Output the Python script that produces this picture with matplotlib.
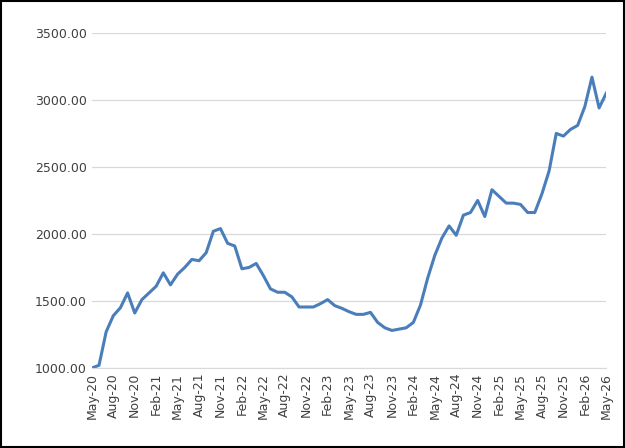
import matplotlib.pyplot as plt
import pandas as pd

months = pd.date_range("2020-05-01", "2026-05-01", freq="MS")
values = [1000, 1020, 1270, 1390, 1450, 1560, 1410, 1510, 1560, 1610, 1710, 1620,
          1700, 1750, 1810, 1800, 1860, 2020, 2040, 1930, 1910, 1740, 1750, 1780,
          1690, 1590, 1565, 1565, 1530, 1455, 1455, 1455, 1480, 1510, 1465, 1445,
          1420, 1400, 1400, 1415, 1340, 1300, 1280, 1290, 1300, 1340, 1470, 1670,
          1840, 1970, 2060, 1990, 2140, 2160, 2250, 2130, 2330, 2280, 2230, 2230,
          2220, 2160, 2160, 2300, 2470, 2750, 2730, 2780, 2810, 2950, 3170, 2940,
          3050]
labels = [m.strftime("%b-%y") for m in months]
yticks = [1000, 1500, 2000, 2500, 3000, 3500]

fig = plt.figure(figsize=(6.25, 4.48), dpi=100)
ax = fig.add_axes([0.147, 0.1786, 0.823, 0.748])
x = list(range(len(values)))
ax.plot(x, values, color="#4a7ebb", linewidth=2.2)

ax.set_xlim(0, len(values) - 1)
ax.set_ylim(1000, 3500)
ax.set_yticks(yticks)
ax.set_yticklabels([f"{v:.2f}" for v in yticks], fontsize=9)
ax.set_xticks(x[::3])
ax.set_xticklabels(labels[::3], rotation=90, fontsize=9)
ax.yaxis.grid(True, color="#d9d9d9", linewidth=0.9)
ax.set_axisbelow(True)
for s in ["top", "right", "left"]:
    ax.spines[s].set_visible(False)
ax.spines["bottom"].set_color("#d9d9d9")
ax.tick_params(axis="both", length=0, colors="#404040")

fig.patches.append(plt.Rectangle((0.002, 0.002), 0.996, 0.996, transform=fig.transFigure,
                                 fill=False, edgecolor="black", linewidth=1.5))
fig.savefig("out.png", dpi=100)
